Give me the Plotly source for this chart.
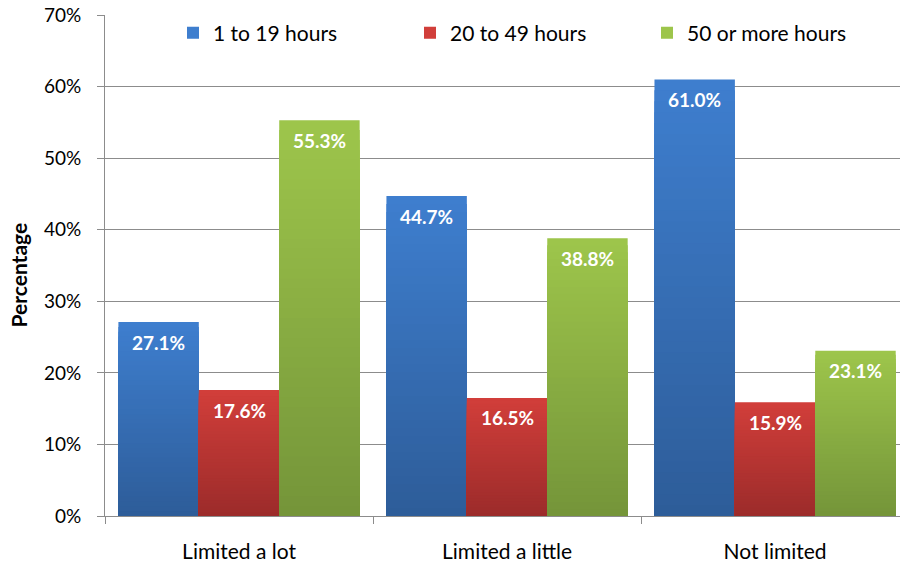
import plotly.graph_objects as go

# Share of people by level of activity limitation and weekly hours of care
categories = ["Limited a lot", "Limited a little", "Not limited"]
series_names = ["1 to 19 hours", "20 to 49 hours", "50 or more hours"]
hours_1_19 = [27.1, 44.7, 61.0]
hours_20_49 = [17.6, 16.5, 15.9]
hours_50_plus = [55.3, 38.8, 23.1]
y_ticks = [0, 10, 20, 30, 40, 50, 60, 70]

series_values = [hours_1_19, hours_20_49, hours_50_plus]

# (top colour, bottom colour) of each series' vertical gradient
gradients = [
    ((62, 126, 206), (45, 92, 152)),
    ((209, 62, 58), (155, 43, 42)),
    ((157, 197, 75), (116, 148, 57)),
]
bar_width = 0.3
offsets = [-0.45, -0.15, 0.15]
LAYERS = 40

FONT = "Lato"


def mix(top, bottom, t):
    r, g, b = (round(bottom[i] + (top[i] - bottom[i]) * t) for i in range(3))
    return f"rgb({r},{g},{b})"


fig = go.Figure()

# Each bar is drawn as a stack of overlaid bars of decreasing height,
# lighter ones underneath, which gives a top-to-bottom shading.
for s, (name, values) in enumerate(zip(series_names, series_values)):
    top, bottom = gradients[s]
    for k in range(LAYERS, 0, -1):
        frac = k / LAYERS
        fig.add_trace(go.Bar(
            x=categories,
            y=[v * frac for v in values],
            name=name,
            legendgroup=name,
            showlegend=(k == LAYERS),
            marker=dict(color=mix(top, bottom, frac), line=dict(width=0)),
            width=bar_width,
            offset=offsets[s],
            hoverinfo="skip",
        ))

# Value labels placed just inside the top of each bar
plot_left, plot_right = 105, 900
x_range = [-0.5, 2.466]
px_per_cat = (plot_right - plot_left) / (x_range[1] - x_range[0])
annotations = []
for s, values in enumerate(series_values):
    centre = offsets[s] + bar_width / 2
    for cat, v in zip(categories, values):
        annotations.append(dict(
            x=cat, y=v, xref="x", yref="y",
            text=f"{v:.1f}%",
            showarrow=False,
            xshift=centre * px_per_cat,
            yshift=-20,
            font=dict(family=FONT, size=19, color="white", weight="bold"),
        ))

annotations.append(dict(
    x=0, y=0.5, xref="paper", yref="paper",
    text="Percentage", textangle=-90, showarrow=False,
    xanchor="center", yanchor="middle",
    xshift=-87, yshift=-10,
    font=dict(family=FONT, size=21, color="black", weight="bold"),
))

fig.update_layout(
    width=900, height=566,
    margin=dict(l=plot_left, r=0, t=15, b=50),
    paper_bgcolor="white",
    plot_bgcolor="white",
    barmode="overlay",
    font=dict(family=FONT, size=18, color="black"),
    showlegend=True,
    legend=dict(
        orientation="h",
        x=(173 - plot_left) / (plot_right - plot_left), xanchor="left",
        y=1.005, yanchor="top",
        entrywidth=192, entrywidthmode="pixels",
        bgcolor="rgba(0,0,0,0)",
        font=dict(family=FONT, size=21, color="black"),
        traceorder="normal",
    ),
    annotations=annotations,
)

fig.update_xaxes(
    type="category",
    range=x_range,
    tickson="boundaries",
    ticks="outside", ticklen=7, tickcolor="#8c8c8c",
    showline=True, linecolor="#8c8c8c", linewidth=1,
    showgrid=False,
    tickfont=dict(family=FONT, size=21),
    ticklabelstandoff=17,
)
fig.update_yaxes(
    range=[0, 70],
    tickvals=y_ticks,
    ticktext=[f"{t}%" for t in y_ticks],
    ticks="outside", ticklen=7, tickcolor="#8c8c8c",
    showline=True, linecolor="#8c8c8c", linewidth=1,
    showgrid=True, gridcolor="#8c8c8c", gridwidth=1,
    zeroline=False,
    tickfont=dict(family=FONT, size=19),
    ticklabelstandoff=12,
)

fig.write_html("out.html")
